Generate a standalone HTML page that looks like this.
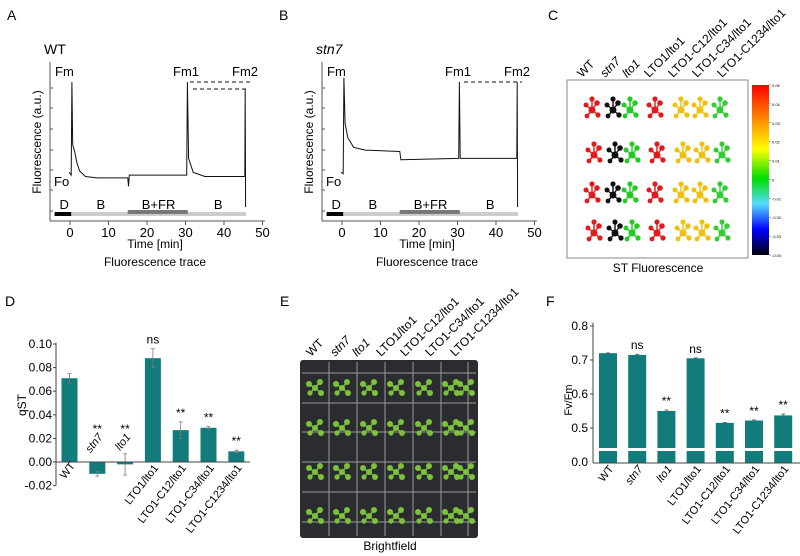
<!DOCTYPE html>
<html><head><meta charset="utf-8"><style>
html,body{margin:0;padding:0;background:#fff}
svg{display:block;font-family:"Liberation Sans",Arial,sans-serif}
</style></head><body>
<svg id="fig" width="800" height="556" viewBox="0 0 800 556" xmlns="http://www.w3.org/2000/svg">
<g id="pA"></g>
<g id="pB"></g>
<g id="pC"></g>
<g id="pD"></g>
<g id="pE"></g>
<g id="pF"></g>
</svg>
<script>
// ---------- data ----------
const genotypes = ["WT","stn7","lto1","LTO1/lto1","LTO1-C12/lto1","LTO1-C34/lto1","LTO1-C1234/lto1"];
const qstValues = [0.071,-0.010,-0.002,0.088,0.027,0.029,0.009];
const qstErrors = [0.004,0.002,0.009,0.008,0.007,0.001,0.001];
const qstSig = ["","**","**","ns","**","**","**"];
const qstTicks = [0.10,0.08,0.06,0.04,0.02,0.00,-0.02];
const fvfmValues = [0.720,0.715,0.550,0.705,0.515,0.522,0.537];
const fvfmErrors = [0.001,0.002,0.003,0.001,0.001,0.002,0.004];
const fvfmSig = ["","ns","**","ns","**","**","**"];
const fvfmTicks = [0.8,0.7,0.6,0.5];
const timeTicks = [0,10,20,30,40,50];
const traceATime = [-0.2,0.3,0.5,0.7,1.2,1.8,2.5,4,7,15,15.2,15.4,30.3,30.5,30.8,32,35,45.4,45.5,45.6];
const traceAVal  = [0.35,0.33,1.0,0.55,0.5,0.42,0.36,0.32,0.31,0.31,0.25,0.33,0.33,1.0,0.45,0.35,0.32,0.32,0.95,0.1];
const traceBTime = [-0.2,0.3,0.5,0.8,1.5,3,6,15,15.3,30.3,30.5,30.7,45.4,45.5,45.6];
const traceBVal  = [0.35,0.34,1.03,0.7,0.6,0.53,0.51,0.5,0.44,0.45,1.0,0.45,0.45,1.0,0.1];

const NS="http://www.w3.org/2000/svg";
const TEAL="#127b7b";
function mk(parent,tag,attrs,text){const e=document.createElementNS(NS,tag);for(const k in attrs)e.setAttribute(k,attrs[k]);if(text!==undefined)e.textContent=text;parent.appendChild(e);return e;}

// ---------- traces ----------
function drawTrace(g,dx,times,vals,label,dashed){
  const tx=t=>70+dx+t*3.85, vy=v=>221-v*139;
  let e=mk(g,"text",{x:7+dx,y:20,"font-size":14},dx?"B":"A");
  
  
  e=mk(g,"text",{x:44+dx,y:54,"font-size":14,"font-style":dx?"italic":"normal"},label);
  
  
  e=mk(g,"line",{x1:50+dx,y1:62,x2:50+dx,y2:221,stroke:"#555","stroke-width":1});
  
  
  [88,108,129,150,170,190,211].forEach(y=>{mk(g,"line",{x1:50+dx,y1:y,x2:53+dx,y2:y,stroke:"#555"});});
  e=mk(g,"line",{x1:50+dx,y1:221,x2:265+dx,y2:221,stroke:"#555"});
  
  
  timeTicks.forEach(t=>{mk(g,"line",{x1:tx(t),y1:221,x2:tx(t),y2:225,stroke:"#555"});
    const l=mk(g,"text",{x:tx(t),y:237,"font-size":13,"text-anchor":"middle"},t);
    
    });
  e=mk(g,"text",{x:155+dx,y:248,"font-size":12,"text-anchor":"middle"},"Time [min]");
  
  
  e=mk(g,"text",{x:155+dx,y:266,"font-size":12,"text-anchor":"middle"},"Fluorescence trace");
  
  
  e=mk(g,"text",{x:0,y:0,"font-size":12,"text-anchor":"middle",transform:`translate(${41+dx},142) rotate(-90)`},"Fluorescence (a.u.)");
  
  
  e=mk(g,"rect",{x:tx(-4),y:212,width:tx(45.7)-tx(-4),height:4,fill:"#ccc"});
  
  
  e=mk(g,"rect",{x:tx(-4),y:212,width:tx(0.3)-tx(-4),height:4,fill:"#000"});
  
  
  e=mk(g,"rect",{x:tx(15),y:210,width:tx(30.6)-tx(15),height:4,fill:"#777"});
  
  
  [["D",-1.5],["B",8],["B+FR",23],["B",38.5]].forEach(([s,t])=>{
    const l=mk(g,"text",{x:tx(t),y:209,"font-size":13,"text-anchor":"middle"},s);
    
    });
  let d="";times.forEach((t,i)=>{d+=(i?"L":"M")+tx(t).toFixed(1)+","+vy(vals[i]).toFixed(1);});
  e=mk(g,"path",{d:d,fill:"none",stroke:"#111","stroke-width":1});
  
  
  dashed.forEach(([x1,x2,v])=>{const l=mk(g,"line",{x1:x1+dx,x2:x2+dx,y1:vy(v),y2:vy(v),stroke:"#111","stroke-dasharray":"4,3"});
    
    });
  [["Fm",55,76],["Fm1",173,76],["Fm2",232,76],["Fo",54,186]].forEach(([s,x,y])=>{
    const l=mk(g,"text",{x:x+dx,y:y,"font-size":13},s);
    
    });
}
drawTrace(document.getElementById("pA"),0,traceATime,traceAVal,"WT",[[190,250,1.0],[193,247,0.95]]);
drawTrace(document.getElementById("pB"),272,traceBTime,traceBVal,"stn7",[[192,250,1.0]]);

function colLabels(g,xs,yBase){
  genotypes.forEach((s,i)=>{const l=mk(g,"text",{x:0,y:0,"font-size":12,"font-style":(i==1||i==2)?"italic":"normal",transform:`translate(${xs[i]},${yBase}) rotate(-45)`},s);
    
    });
}
// ---------- panel C ----------
(function(){
  const g=document.getElementById("pC");
  let e=mk(g,"text",{x:548,y:20,"font-size":14},"C");
  
  
  colLabels(g,[582,605,627,649,673,697,722],78);
  e=mk(g,"rect",{x:567,y:80,width:181,height:178,fill:"#fff",stroke:"#888"});
  
  
  const defs=mk(g,"defs",{});
  const lg=mk(defs,"linearGradient",{id:"cbar",x1:0,y1:0,x2:0,y2:1});
  [["0","#ff0000"],["0.25","#ffaa00"],["0.38","#ffff00"],["0.55","#00dd00"],["0.7","#55ddff"],["0.85","#0000ff"],["1","#000010"]].forEach(([o,c])=>mk(lg,"stop",{offset:o,"stop-color":c}));
  e=mk(g,"rect",{x:752,y:85,width:17,height:170,fill:"url(#cbar)"});
  
  
  ["0.05","0.04","0.03","0.02","0.01","0","-0.01","-0.02","-0.03","-0.04"].forEach((s,i)=>{
    const y=85+i*170/9;
    mk(g,"line",{x1:769,x2:771,y1:y,y2:y,stroke:"#444","stroke-width":0.5});
    const l=mk(g,"text",{x:772,y:y+2,"font-size":4},s);
    
    });
  const cols=[592,613,630,655,681,700,720], colors=["#e31a1c","#111","#22cc22","#e31a1c","#f0c010","#f0c010","#33cc33"];
  [110,155,195,233].forEach((y,r)=>cols.forEach((x,c)=>{
    const pg=mk(g,"g",{fill:colors[c]});
    
    
    [[0,0,3.5],[-6,-5,2.5],[5,-7,2.8],[6,5,2.6],[-5,6,2.4],[0,-11,2.6]].forEach(([a,b,rr])=>{
      mk(pg,"circle",{cx:x+a+(r%2)*2,cy:y+b,r:rr});
      mk(pg,"line",{x1:x+(r%2)*2,y1:y,x2:x+a+(r%2)*2,y2:y+b,stroke:colors[c],"stroke-width":1.4});});
  }));
  e=mk(g,"text",{x:658,y:272,"font-size":12,"text-anchor":"middle"},"ST Fluorescence");
  
  
})();

// ---------- panel E ----------
(function(){
  const g=document.getElementById("pE");
  let e=mk(g,"text",{x:280,y:306,"font-size":14},"E");
  
  
  colLabels(g,[311,335,357,381,405,430,455],357);
  e=mk(g,"rect",{x:300,y:360,width:178,height:178,fill:"#2b2c30",rx:3});
  
  
  [329,357,385,413,441,468].forEach(x=>mk(g,"line",{x1:x,x2:x,y1:362,y2:536,stroke:"#9a9a9a","stroke-width":1}));
  [373,403,432,462,492,522].forEach(y=>mk(g,"line",{x1:302,x2:476,y1:y,y2:y,stroke:"#9a9a9a","stroke-width":1}));
  const cols=[315,342,369,396,424,451,466];
  [388,428,472,516].forEach((y,r)=>cols.forEach((x,c)=>{
    const pg=mk(g,"g",{fill:"#7cc23a"});
    
    
    [[0,0,3],[-6,-4,3],[5,-6,3],[6,5,3],[-5,5,2.6]].forEach(([a,b,rr])=>{
      mk(pg,"circle",{cx:x+a,cy:y+b,r:rr});
      mk(pg,"line",{x1:x,y1:y,x2:x+a,y2:y+b,stroke:"#7cc23a","stroke-width":1.4});});
  }));
  e=mk(g,"text",{x:390,y:550,"font-size":12,"text-anchor":"middle"},"Brightfield");
  
  
})();

function barLabels(g,xs,ys){
  genotypes.forEach((s,i)=>{const l=mk(g,"text",{x:0,y:0,"font-size":11,"text-anchor":"end","font-style":(i==1||i==2)?"italic":"normal",transform:`translate(${xs[i]},${ys[i]}) rotate(-52)`},s);
    
    });
}
// ---------- panel D ----------
(function(){
  const g=document.getElementById("pD");
  const y=v=>462-v*1180, x0=69.5, step=27.8, bw=16;
  let e=mk(g,"text",{x:5,y:306,"font-size":14},"D");
  
  
  e=mk(g,"line",{x1:56,x2:56,y1:y(0.101),y2:y(-0.02),stroke:"#444"});
  
  
  qstTicks.forEach(t=>{mk(g,"line",{x1:53,x2:56,y1:y(t),y2:y(t),stroke:"#444"});
    const l=mk(g,"text",{x:52,y:y(t)+4,"font-size":12,"text-anchor":"end"},t.toFixed(2));
    
    });
  e=mk(g,"text",{x:0,y:0,"font-size":12,"text-anchor":"middle",transform:"translate(26,405) rotate(-90)"},"qST");
  
  
  qstValues.forEach((v,i)=>{
    const cx=x0+i*step;
    const b=mk(g,"rect",{x:cx-bw/2,y:Math.min(y(v),y(0)),width:bw,height:Math.abs(y(v)-y(0)),fill:TEAL});
    
    
    const er=qstErrors[i];
    const eb=mk(g,"path",{d:`M${cx},${y(v+er)}V${y(v-er)}M${cx-2},${y(v+er)}h4M${cx-2},${y(v-er)}h4`,stroke:"#777","stroke-width":0.8,fill:"none"});
    
    
    if(qstSig[i]){
      const sy = v<0.005 ? y(0.028)+4 : y(v+er)-5;
      const s=mk(g,"text",{x:cx,y:sy,"font-size":12,"text-anchor":"middle"},qstSig[i]);
      
      }
  });
  e=mk(g,"line",{x1:56,x2:250,y1:y(0),y2:y(0),stroke:"#444"});
  
  
  barLabels(g,genotypes.map((s,i)=>x0+i*step+6),[466,437,437,468,468,468,468]);
})();

// ---------- panel F ----------
(function(){
  const g=document.getElementById("pF");
  const y=v=>v<0.3?462:428-(v-0.5)*340, x0=608, step=29.2, bw=18;
  let e=mk(g,"text",{x:546,y:306,"font-size":14},"F");
  
  
  e=mk(g,"line",{x1:593,x2:593,y1:y(0.81),y2:463,stroke:"#444"});
  
  
  fvfmTicks.forEach(t=>{mk(g,"line",{x1:590,x2:593,y1:y(t),y2:y(t),stroke:"#444"});
    const l=mk(g,"text",{x:588,y:y(t)+4,"font-size":12,"text-anchor":"end"},t.toFixed(1));
    
    });
  e=mk(g,"text",{x:588,y:466,"font-size":12,"text-anchor":"end"},"0.0");
  
  
  e=mk(g,"text",{x:0,y:0,"font-size":11,"text-anchor":"middle",transform:"translate(572,400) rotate(-90)"},"Fv/Fm");
  
  
  fvfmValues.forEach((v,i)=>{
    const cx=x0+i*step;
    const b=mk(g,"rect",{x:cx-bw/2,y:y(v),width:bw,height:463-y(v),fill:TEAL});
    
    
    const er=fvfmErrors[i];
    const eb=mk(g,"path",{d:`M${cx},${y(v+er)}V${y(v-er)}M${cx-2},${y(v+er)}h4`,stroke:"#555","stroke-width":0.8});
    
    
    if(fvfmSig[i]){const s=mk(g,"text",{x:cx,y:y(v+er)-5,"font-size":12,"text-anchor":"middle"},fvfmSig[i]);
      
      }
  });
  e=mk(g,"rect",{x:594,y:448,width:206,height:3,fill:"#fff"});
  
  
  e=mk(g,"line",{x1:593,x2:800,y1:463,y2:463,stroke:"#444"});
  
  
  barLabels(g,genotypes.map((s,i)=>x0+i*step+6),Array(7).fill(469));
})();
</script>
</body></html>
